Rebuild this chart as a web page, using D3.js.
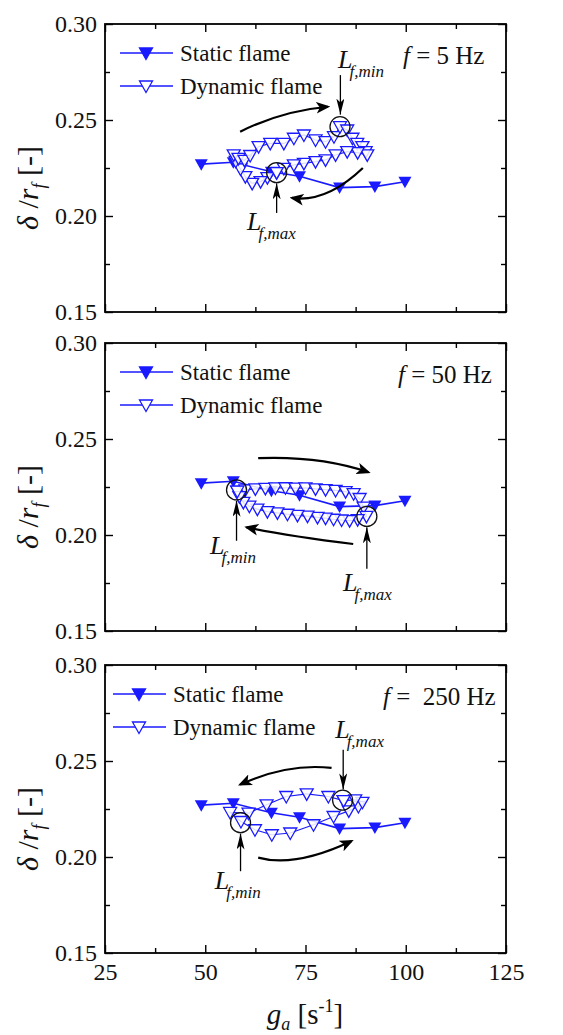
<!DOCTYPE html>
<html>
<head>
<meta charset="utf-8">
<script src="https://cdn.jsdelivr.net/npm/d3@7"></script>
<style>
  body { margin: 0; background: #fff; }
  text { font-family: "Liberation Serif", "Times New Roman", serif; }
</style>
</head>
<body>
<svg id="chart" width="563" height="1035"></svg>
<script>
// ---- data ----
var xTicks = [25, 50, 75, 100, 125];
var xMinor = [37.5, 62.5, 87.5, 112.5];
var yTicks = [0.15, 0.20, 0.25, 0.30];
var yMinor = [0.175, 0.225, 0.275];

var staticX = [49, 57, 66.5, 73.5, 83.5, 92.3, 99.8];
var staticY = [0.227, 0.228, 0.223, 0.2207, 0.2148, 0.2153, 0.2178];

var dyn5X = [67.8, 65.5, 63.8, 61.7, 60.0, 58.8, 57.6, 57.1, 58.3, 59.8, 61.2, 63.3, 66.2, 69.6, 72.1, 74.6, 77.5, 80.0, 82.1, 83.6,
             85.4, 86.7, 87.9, 89.2, 90.0, 90.4, 88.0, 85.4, 82.5, 80.0, 77.5, 74.6, 72.1, 69.6, 67.8];
var dyn5Y = [0.2226, 0.2200, 0.2179, 0.2170, 0.2205, 0.2245, 0.2285, 0.2318, 0.2300, 0.2290, 0.2315, 0.2361, 0.2378, 0.2378, 0.2405, 0.2422, 0.2396, 0.2387, 0.2413, 0.2465,
             0.2448, 0.2405, 0.2378, 0.2361, 0.2335, 0.2318, 0.2330, 0.2335, 0.2318, 0.2292, 0.2283, 0.2274, 0.2266, 0.2248, 0.2226];

var dyn50X = [58, 60, 62.5, 65, 67.5, 70, 72.5, 75, 77.5, 80, 82.5, 85, 87, 88.5, 89.5, 90.2,
              88, 86, 84, 82, 80, 78, 75.5, 73, 70.5, 68, 65.5, 63, 61, 59.5, 58.5, 58];
var dyn50Y = [0.2228, 0.2235, 0.2240, 0.2243, 0.2245, 0.2246, 0.2244, 0.2245, 0.2240, 0.2236, 0.2232, 0.2226, 0.2215, 0.2190, 0.2145, 0.2097,
              0.2080, 0.2075, 0.2078, 0.2082, 0.2088, 0.2092, 0.2098, 0.2102, 0.2108, 0.2115, 0.2122, 0.2135, 0.2150, 0.2170, 0.2200, 0.2228];

var dyn250X = [84.5, 80.7, 75.3, 70.2, 65.3, 60.8, 56.2, 58.9, 62.4, 66.6, 71.2, 77.0, 82.0, 85.8, 88.2, 89.2, 87.4, 84.5];
var dyn250Y = [0.2294, 0.2315, 0.2329, 0.2315, 0.2272, 0.2228, 0.2232, 0.2185, 0.2142, 0.2116, 0.2125, 0.2168, 0.2211, 0.2240, 0.2263, 0.2285, 0.2298, 0.2294];

var freqLabels = ["5", "50", "250"];

// annotations, in data units: circles [x,y], pointers [x, yFrom, yTip], labels [sub, x, y], curves [p0, ctrl, p1]
var circles5 = [[83.6, 0.2465], [67.8, 0.2226]];
var pointers5 = [[83.7, 0.2734, 0.2528], [67.8, 0.2016, 0.2170]];
var labels5 = [["min", 83.1, 0.2771], ["max", 60.4, 0.1927]];
var curves5 = [[[58.7, 0.2439], [69.1, 0.2548], [80.6, 0.2569]], [[89.3, 0.2250], [80.2, 0.2068], [71.6, 0.2094]]];

var circles50 = [[57.8, 0.2235], [90.3, 0.2097]];
var pointers50 = [[57.8, 0.1970, 0.2178], [90.3, 0.1824, 0.2040]];
var labels50 = [["min", 51.2, 0.1902], ["max", 84.35, 0.1709]];
var curves50 = [[[63.2, 0.2400], [78.6, 0.2413], [90.7, 0.2327]], [[86.9, 0.1953], [70.3, 0.1996], [60.3, 0.2040]]];

var circles250 = [[84.25, 0.2296], [58.8, 0.2179]];
var pointers250 = [[84.4, 0.2559, 0.2352], [58.8, 0.1926, 0.2122]];
var labels250 = [["max", 82.4, 0.2620], ["min", 52.4, 0.1832]];
var curves250 = [[[81.5, 0.2464], [70.5, 0.2490], [58.7, 0.2377]], [[63.2, 0.1997], [72.4, 0.1943], [86.5, 0.2083]]];

// ---- layout ----
var svg = d3.select("#chart");
var left = 105, right = 506, ph = 288;
var blue = "#1a1aff";
var panels = [
    {top: 24,  legX: 120, fX: 403, dx: dyn5X,   dy: dyn5Y,   circles: circles5,   pointers: pointers5,   labels: labels5,   curves: curves5},
    {top: 343, legX: 120, fX: 398, dx: dyn50X,  dy: dyn50Y,  circles: circles50,  pointers: pointers50,  labels: labels50,  curves: curves50},
    {top: 665, legX: 113, fX: 383, dx: dyn250X, dy: dyn250Y, circles: circles250, pointers: pointers250, labels: labels250, curves: curves250}
];

var xScale = d3.scaleLinear().domain([25, 125]).range([left, right]);
var triDown = "M-6.5,-5L6.5,-5L0,6.5Z";

var defs = svg.append("defs");
defs.append("marker")
    .attr("id", "curveHead")
    .attr("viewBox", "0 0 12 10")
    .attr("refX", 10).attr("refY", 5)
    .attr("markerWidth", 14).attr("markerHeight", 12)
    .attr("markerUnits", "userSpaceOnUse")
    .attr("orient", "auto")
    .append("path").attr("d", "M0,0L12,5L0,10L3,5Z").attr("fill", "#000");
defs.append("marker")
    .attr("id", "pointHead")
    .attr("viewBox", "0 0 16 8")
    .attr("refX", 16).attr("refY", 4)
    .attr("markerWidth", 16).attr("markerHeight", 8)
    .attr("markerUnits", "userSpaceOnUse")
    .attr("orient", "auto")
    .append("path").attr("d", "M0,0L16,4L0,8L4,4Z").attr("fill", "#000");

panels.forEach(function(p, i) {
    var yScale = d3.scaleLinear().domain([0.15, 0.30]).range([p.top + ph, p.top]);
    var g = svg.append("g");
    var last = (i == panels.length - 1);

    // axes: major + minor ticks on all four sides, pointing inward
    var yAxis = d3.axisLeft(yScale).tickValues(yTicks).tickSize(-8).tickPadding(8).tickFormat(d3.format(".2f"));
    g.append("g").attr("transform", "translate(" + left + ",0)").call(yAxis);
    g.append("g").attr("transform", "translate(" + left + ",0)")
        .call(d3.axisLeft(yScale).tickValues(yMinor).tickSize(-5).tickFormat(""));
    g.append("g").attr("transform", "translate(" + right + ",0)")
        .call(d3.axisRight(yScale).tickValues(yTicks).tickSize(-8).tickFormat(""));
    g.append("g").attr("transform", "translate(" + right + ",0)")
        .call(d3.axisRight(yScale).tickValues(yMinor).tickSize(-5).tickFormat(""));

    var xAxis = d3.axisBottom(xScale).tickValues(xTicks).tickSize(-8).tickPadding(10)
        .tickFormat(last ? d3.format("d") : "");
    g.append("g").attr("transform", "translate(0," + (p.top + ph) + ")").call(xAxis);
    g.append("g").attr("transform", "translate(0," + (p.top + ph) + ")")
        .call(d3.axisBottom(xScale).tickValues(xMinor).tickSize(-5).tickFormat(""));
    g.append("g").attr("transform", "translate(0," + p.top + ")")
        .call(d3.axisTop(xScale).tickValues(xTicks).tickSize(-8).tickFormat(""));
    g.append("g").attr("transform", "translate(0," + p.top + ")")
        .call(d3.axisTop(xScale).tickValues(xMinor).tickSize(-5).tickFormat(""));

    g.selectAll(".domain").remove();
    g.selectAll(".tick line").attr("stroke", "#000").attr("stroke-width", 1.4);
    g.selectAll(".tick text").attr("font-size", "24px").attr("fill", "#111");

    g.append("rect")
        .attr("x", left).attr("y", p.top)
        .attr("width", right - left).attr("height", ph)
        .attr("fill", "none").attr("stroke", "#000").attr("stroke-width", 1.8);

    // y title
    var yt = g.append("text")
        .attr("transform", "translate(38," + (p.top + ph / 2 + 20) + ") rotate(-90)")
        .attr("text-anchor", "middle")
        .attr("font-size", "30px").attr("fill", "#111");
    yt.append("tspan").attr("font-style", "italic").text("\u03b4");
    yt.append("tspan").text(" /");
    yt.append("tspan").attr("font-style", "italic").text("r");
    yt.append("tspan").attr("font-style", "italic").attr("font-size", "18px").attr("dy", 7).text("f");
    yt.append("tspan").attr("dy", -7).text(" [-]");

    // static flame
    var line = d3.line().x(function(d) { return xScale(d[0]); }).y(function(d) { return yScale(d[1]); });
    var sData = staticX.map(function(x, k) { return [x, staticY[k]]; });
    var dData = p.dx.map(function(x, k) { return [x, p.dy[k]]; });

    g.append("path").datum(sData).attr("d", line)
        .attr("fill", "none").attr("stroke", blue).attr("stroke-width", 1.6);
    g.append("path").datum(dData).attr("d", line)
        .attr("fill", "none").attr("stroke", blue).attr("stroke-width", 1.2);

    g.selectAll(".smark").data(sData).enter().append("path")
        .attr("transform", function(d) { return "translate(" + xScale(d[0]) + "," + yScale(d[1]) + ")"; })
        .attr("d", triDown).attr("fill", blue);

    g.selectAll(".dmark").data(dData).enter().append("path")
        .attr("transform", function(d) { return "translate(" + xScale(d[0]) + "," + yScale(d[1]) + ")"; })
        .attr("d", triDown).attr("fill", "#fff").attr("fill-opacity", 0.85)
        .attr("stroke", blue).attr("stroke-width", 1.3);

    // legend
    var legRows = [["Static flame", blue, 29], ["Dynamic flame", "#fff", 62]];
    legRows.forEach(function(r) {
        var ly = p.top + r[2];
        g.append("line").attr("x1", p.legX).attr("x2", p.legX + 53)
            .attr("y1", ly).attr("y2", ly).attr("stroke", blue).attr("stroke-width", 1.5);
        g.append("path").attr("transform", "translate(" + (p.legX + 26) + "," + ly + ")")
            .attr("d", triDown).attr("fill", r[1]).attr("stroke", blue).attr("stroke-width", 1.3);
        g.append("text").attr("x", p.legX + 60).attr("y", ly + 8)
            .attr("font-size", "23px").attr("fill", "#111").text(r[0]);
    });

    // frequency label
    var ft = g.append("text").attr("x", p.fX).attr("y", p.top + 40)
        .attr("font-size", "25px").attr("fill", "#111").style("white-space", "pre");
    ft.append("tspan").attr("font-style", "italic").text("f");
    ft.append("tspan").text(" = " + (freqLabels[i] == "250" ? " " : "") + freqLabels[i] + " Hz");

    // annotations
    p.circles.forEach(function(c) {
        g.append("circle").attr("cx", xScale(c[0])).attr("cy", yScale(c[1])).attr("r", 10)
            .attr("fill", "none").attr("stroke", "#111").attr("stroke-width", 1.3);
    });
    p.pointers.forEach(function(a) {
        g.append("line").attr("x1", xScale(a[0])).attr("x2", xScale(a[0]))
            .attr("y1", yScale(a[1])).attr("y2", yScale(a[2]))
            .attr("stroke", "#000").attr("stroke-width", 1.3)
            .attr("marker-end", "url(#pointHead)");
    });
    p.labels.forEach(function(l) {
        var t = g.append("text").attr("x", xScale(l[1])).attr("y", yScale(l[2]))
            .attr("font-size", "26px").attr("font-style", "italic").attr("fill", "#111");
        t.append("tspan").text("L");
        t.append("tspan").attr("font-size", "17px").attr("dy", 9).attr("dx", -3).text("f," + l[0]);
    });
    p.curves.forEach(function(c) {
        var path = d3.path();
        path.moveTo(xScale(c[0][0]), yScale(c[0][1]));
        path.quadraticCurveTo(xScale(c[1][0]), yScale(c[1][1]), xScale(c[2][0]), yScale(c[2][1]));
        g.append("path").attr("d", path.toString())
            .attr("fill", "none").attr("stroke", "#000").attr("stroke-width", 2.2)
            .attr("marker-end", "url(#curveHead)");
    });
});

// x title
var xt = svg.append("text").attr("x", 305).attr("y", 1024)
    .attr("text-anchor", "middle").attr("font-size", "29px").attr("fill", "#111");
xt.append("tspan").attr("font-style", "italic").text("g");
xt.append("tspan").attr("font-style", "italic").attr("font-size", "18px").attr("dy", 6).text("a");
xt.append("tspan").attr("dy", -6).text(" [s");
xt.append("tspan").attr("font-size", "18px").attr("dy", -12).text("-1");
xt.append("tspan").attr("dy", 12).text("]");
</script>
</body>
</html>
